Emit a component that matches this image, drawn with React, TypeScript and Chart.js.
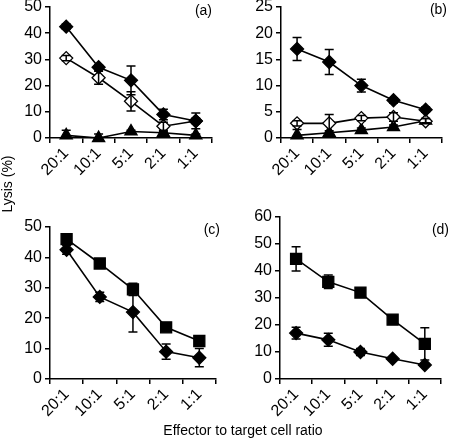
import React, { useEffect, useRef } from 'react';
import { Chart, registerables } from 'chart.js';

Chart.register(...registerables);

// ---- Data ----
const ratios = ['20:1', '10:1', '5:1', '2:1', '1:1'];

// Panel (a)
const aFilled = [42.5, 27, 22, 9, 6.5];
const aFilledErr = [1, 1, 5.5, 2, 3];
const aOpen = [30.5, 23, 14, 4.5, 6.5];
const aOpenErr = [1, 2.5, 3.7, 1.5, 1];
const aTri = [1, 0, 2.5, 2, 1];
const aTriErr = [2, 1.5, 0.5, 0.5, 0.5];

// Panel (b)
const bFilled = [17, 14.5, 10, 7.2, 5.4];
const bFilledErr = [2.2, 2.4, 1.2, 0.5, 0.5];
const bOpen = [2.8, 2.8, 3.8, 4, 3.2];
const bOpenErr = [0.5, 1.7, 0.5, 0.8, 0.5];
const bTri = [0.5, 1, 1.5, 2.1, 3.3];
const bTriErr = [1.1, 0.4, 0.4, 0.4, 0.4];

// Panel (c)
const cSquare = [46, 38, 29.5, 17, 12.5];
const cSquareErr = [1, 1, 2, 0.5, 1.5];
const cDiamond = [42.5, 27, 22, 9, 7];
const cDiamondErr = [1.5, 1.5, 6.5, 2.5, 3];

// Panel (d)
const dSquare = [44.5, 36, 32, 22, 13];
const dSquareErr = [4.5, 2.5, 0.5, 1, 6];
const dDiamond = [17, 14.5, 10, 7.5, 5.2];
const dDiamondErr = [2.2, 2.4, 1.3, 0.5, 0.5];

const FONT = "'Liberation Sans', Arial, Helvetica, sans-serif";
const TICK_SIZE = 16;

type Series = { data: number[]; err: number[]; style: string; fill: string; radius: number };

const errorBarPlugin = {
  id: 'errorBars',
  afterDatasetsDraw(chart: any) {
    const ctx = chart.ctx;
    const yScale = chart.scales.y;
    chart.data.datasets.forEach((ds: any, di: number) => {
      const errs: number[] | undefined = ds.errors;
      if (!errs) return;
      const meta = chart.getDatasetMeta(di);
      meta.data.forEach((pt: any, i: number) => {
        const v = ds.data[i];
        const e = errs[i];
        if (!e) return;
        const x = pt.x;
        const yTop = yScale.getPixelForValue(v + e);
        const yBot = yScale.getPixelForValue(Math.max(v - e, 0));
        ctx.save();
        ctx.strokeStyle = '#000';
        ctx.lineWidth = 1.5;
        ctx.beginPath();
        ctx.moveTo(x, yTop);
        ctx.lineTo(x, yBot);
        ctx.moveTo(x - 4.5, yTop);
        ctx.lineTo(x + 4.5, yTop);
        ctx.moveTo(x - 4.5, yBot);
        ctx.lineTo(x + 4.5, yBot);
        ctx.stroke();
        ctx.restore();
      });
    });
  },
};

type PanelProps = {
  left: number; top: number; width: number; height: number;
  L: number; R: number; T: number; B: number;
  max: number; step: number; series: Series[];
};

function Panel(p: PanelProps) {
  const ref = useRef<HTMLCanvasElement | null>(null);
  useEffect(() => {
    if (!ref.current) return;
    const yW = p.L - p.left;
    const xH = p.top + p.height - p.B;
    const chart = new Chart(ref.current, {
      type: 'line',
      data: {
        labels: ratios,
        datasets: p.series.map((s) => ({
          data: s.data,
          errors: s.err,
          borderColor: '#000',
          borderWidth: 1.6,
          pointStyle: s.style,
          pointRadius: s.radius,
          pointBackgroundColor: s.fill,
          pointBorderColor: '#000',
          pointBorderWidth: 1.3,
          fill: false,
          tension: 0,
          clip: false,
        })) as any,
      },
      options: {
        responsive: false,
        animation: false,
        events: [],
        layout: { padding: { left: 0, top: p.T - p.top, right: p.left + p.width - p.R, bottom: 0 } },
        plugins: { legend: { display: false }, tooltip: { enabled: false }, title: { display: false } },
        scales: {
          x: {
            type: 'category',
            offset: true,
            grid: { offset: true, drawOnChartArea: false, drawTicks: true, tickLength: 5, color: '#000', lineWidth: 1.5 },
            border: { color: '#000', width: 1.5 },
            ticks: { color: '#000', font: { family: FONT, size: TICK_SIZE }, minRotation: 45, maxRotation: 45, autoSkip: false, padding: 1 },
            afterFit: (s: any) => { s.height = xH; },
          },
          y: {
            min: 0,
            max: p.max,
            grid: { drawOnChartArea: false, drawTicks: true, tickLength: 5, color: '#000', lineWidth: 1.5 },
            border: { color: '#000', width: 1.5 },
            ticks: { stepSize: p.step, color: '#000', font: { family: FONT, size: TICK_SIZE }, padding: 3 },
            afterFit: (s: any) => { s.width = yW; },
          },
        },
      } as any,
      plugins: [errorBarPlugin],
    });
    return () => chart.destroy();
  }, []);
  return (
    <canvas
      ref={ref}
      width={p.width}
      height={p.height}
      style={{ position: 'absolute', left: p.left, top: p.top, width: p.width, height: p.height }}
    />
  );
}

const tagStyle = (right: number, top: number): React.CSSProperties => ({
  position: 'absolute', left: right - 40, width: 40, top, textAlign: 'right',
  fontFamily: FONT, fontSize: 14, lineHeight: '16px', color: '#000',
});

export default function App() {
  const filledD = (data: number[], err: number[]): Series => ({ data, err, style: 'rectRot', fill: '#000', radius: 6.5 });
  const openD = (data: number[], err: number[]): Series => ({ data, err, style: 'rectRot', fill: '#fff', radius: 6.5 });
  const tri = (data: number[], err: number[]): Series => ({ data, err, style: 'triangle', fill: '#000', radius: 7 });
  const sq = (data: number[], err: number[]): Series => ({ data, err, style: 'rect', fill: '#000', radius: 7.8 });

  return (
    <div style={{ position: 'absolute', left: 0, top: 0, width: 450, height: 440, overflow: 'hidden', background: '#fff' }}>
      <Panel left={0} top={-15} width={225} height={215} L={50} R={212} T={7} B={138} max={50} step={10}
        series={[filledD(aFilled, aFilledErr), openD(aOpen, aOpenErr), tri(aTri, aTriErr)]} />
      <Panel left={225} top={-15} width={225} height={215} L={281} R={446} T={7} B={138} max={25} step={5}
        series={[filledD(bFilled, bFilledErr), openD(bOpen, bOpenErr), tri(bTri, bTriErr)]} />
      <Panel left={0} top={200} width={225} height={225} L={50} R={219} T={227} B={379} max={50} step={10}
        series={[sq(cSquare, cSquareErr), filledD(cDiamond, cDiamondErr)]} />
      <Panel left={225} top={200} width={225} height={225} L={280} R={449} T={217} B={379} max={60} step={10}
        series={[sq(dSquare, dSquareErr), filledD(dDiamond, dDiamondErr)]} />
      <div style={tagStyle(212, 2)}>(a)</div>
      <div style={tagStyle(447, 1)}>(b)</div>
      <div style={tagStyle(220, 221)}>(c)</div>
      <div style={tagStyle(449, 221)}>(d)</div>
      <div style={{ position: 'absolute', left: 7 - 40, top: 184 - 8, width: 80, height: 16, lineHeight: '16px', textAlign: 'center', transform: 'rotate(-90deg)', fontFamily: FONT, fontSize: 14, color: '#000' }}>Lysis (%)</div>
      <div style={{ position: 'absolute', left: 0, width: 486, top: 422, textAlign: 'center', fontFamily: FONT, fontSize: 14, lineHeight: '16px', color: '#000', whiteSpace: 'nowrap' }}>Effector to target cell ratio</div>
    </div>
  );
}
